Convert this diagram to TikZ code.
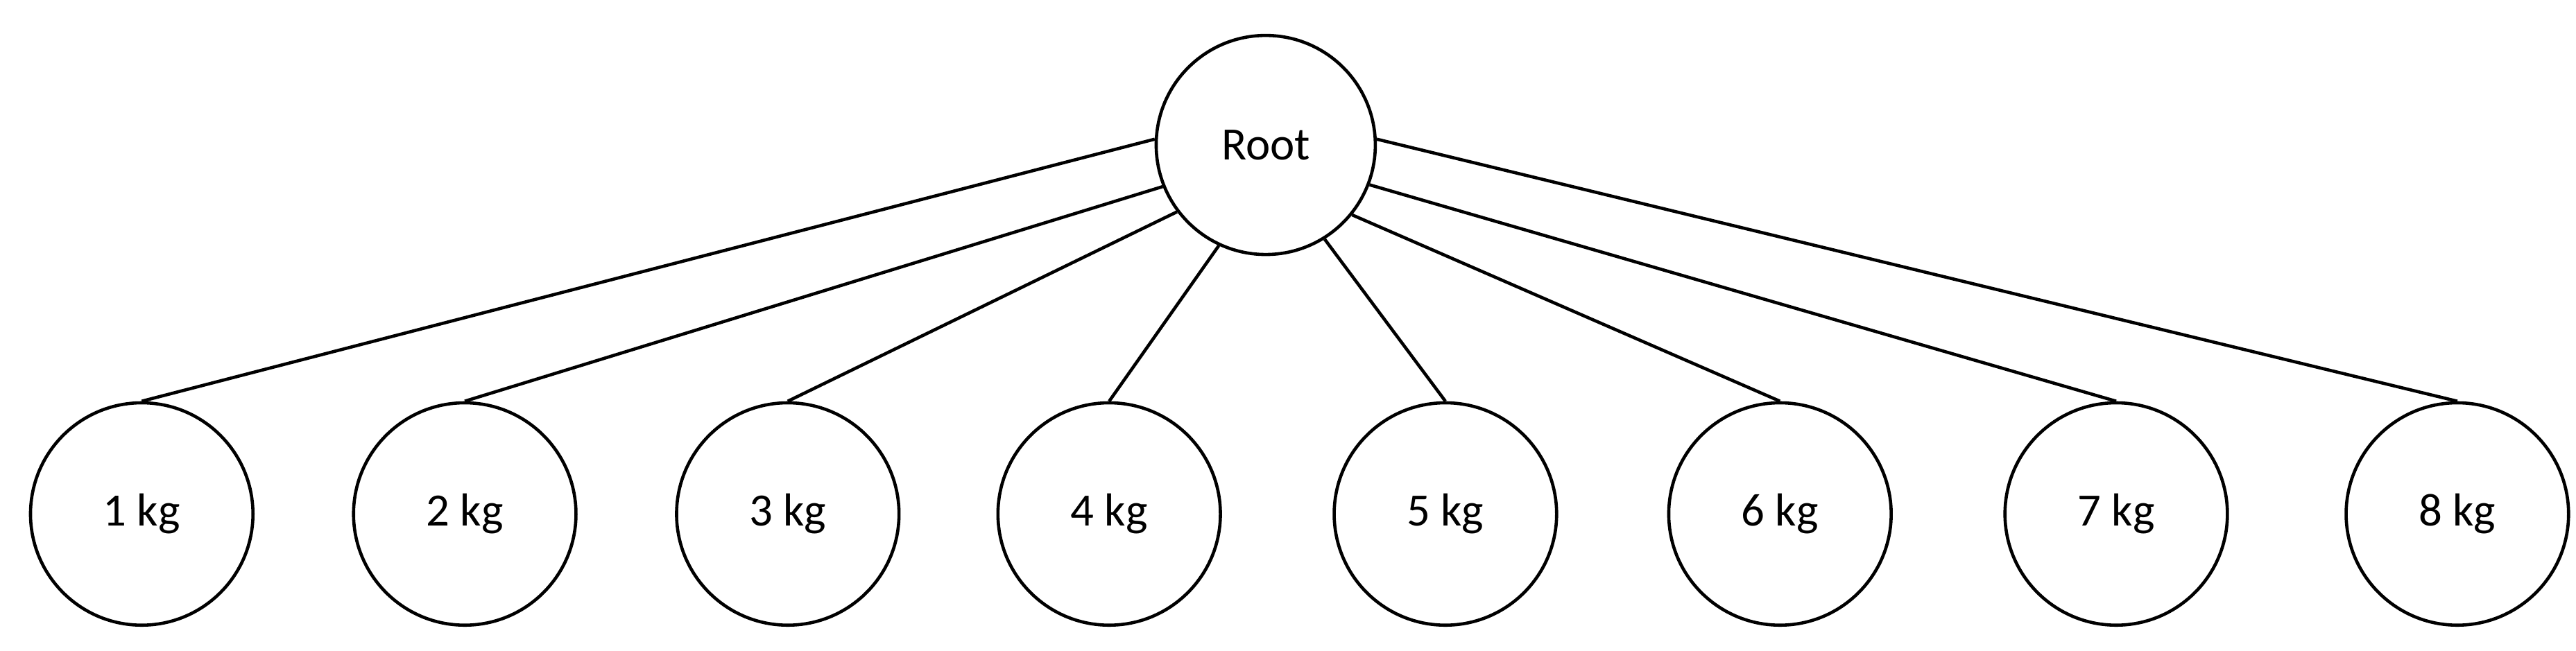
\documentclass[tikz,border=0pt]{standalone}
\usepackage{fontspec}
\setmainfont{Carlito}
\begin{document}
\begin{tikzpicture}[x=0.02cm,y=-0.02cm,
  nd/.style={circle,draw,line width=1.1pt,minimum size=2.7cm,inner sep=0pt,font=\fontsize{16}{19}\selectfont},
  ln/.style={line width=1.1pt}]
\useasboundingbox (0,0) rectangle (1563,395);
\node[nd,minimum size=2.66cm] (r) at (768,88) {Root};
\foreach \i/\x/\a in {1/86/177,2/282/202,3/478/217,4/673/245,5/877/302,6/1080/321,7/1284/339,8/1491/3}{
  \node[nd] (n\i) at (\x,312) {\i\ kg};
  \draw[ln] (r.\a) -- (n\i.north);
}
\end{tikzpicture}
\end{document}
